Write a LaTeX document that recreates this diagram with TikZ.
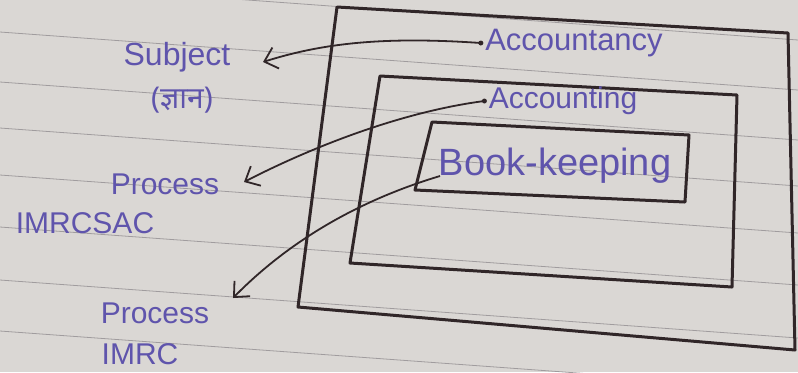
\documentclass[tikz,border=0pt]{standalone}
\usepackage{fontspec}
\setmainfont{Liberation Sans}
\newfontfamily\devfont[Script=Devanagari]{Noto Sans}
\usetikzlibrary{arrows.meta}
\definecolor{paper}{RGB}{218,215,212}
\definecolor{rule}{RGB}{160,156,158}
\definecolor{ink}{RGB}{95,84,172}
\definecolor{pencil}{RGB}{48,38,40}
\tikzset{
  label text/.style={text=ink, inner sep=0pt, anchor=center},
  box line/.style={draw=pencil, line width=1.5pt, line join=round},
  pointer/.style={draw=pencil, line width=0.9pt,
    -{Straight Barb[length=6pt,width=11pt,line width=0.9pt]}},
  start dot/.style={circle, fill=pencil, inner sep=0pt, minimum size=2.5pt}
}
\begin{document}
\begin{tikzpicture}[x=0.5pt,y=-0.5pt]
% paper and its ruled lines
\fill[paper] (0,0) rectangle (798,372);
\useasboundingbox (0,0) rectangle (798,372);
\foreach \y in {-18,32,82,128,175,227,280,331} {
  \draw[rule, line width=0.4pt] (0,\y) -- (798,\y+58);
}
% the three nested boxes
\draw[box line] (337,7) -- (788,33) -- (795,350) -- (298,307) -- cycle;
\draw[box line] (380,76) -- (737,95) -- (732,287) -- (350,263) -- cycle;
\draw[box line] (432,122) -- (689,135) -- (685,202) -- (415,190) -- cycle;
% box titles
\node[label text, font=\fontsize{15.5}{17}\selectfont] (acy) at (574,43) {Accountancy};
\node[label text, font=\fontsize{15}{17}\selectfont] (acg) at (563,101) {Accounting};
\node[label text, font=\fontsize{19}{21}\selectfont] (bk) at (555,166) {Book-keeping};
% side labels
\node[label text, font=\fontsize{16}{18}\selectfont] (subj) at (177,57) {Subject};
\node[label text, font=\fontsize{15}{17}\selectfont\devfont] (gyan) at (182,100) {(ज्ञान)};
\node[label text, font=\fontsize{15}{17}\selectfont] (proc1) at (165,184) {Process};
\node[label text, font=\fontsize{15}{17}\selectfont] (imr1) at (85,223) {IMRCSAC};
\node[label text, font=\fontsize{15}{17}\selectfont] (proc2) at (155,313) {Process};
\node[label text, font=\fontsize{15}{17}\selectfont] (imr2) at (140,354) {IMRC};
% where each pointer starts and where its tip lands
\coordinate (a1) at ([xshift=-2pt]acy.west);
\coordinate (a2) at ([xshift=-2pt]acg.west);
\coordinate (a3) at (440,176);
\coordinate (t1) at (263,62);
\coordinate (t2) at (244,182);
\coordinate (t3) at (233,298);
\node[start dot] at (a1) {};
\node[start dot] at (a2) {};
% pointers from each box title to its meaning
\draw[pointer] (a1) .. controls (380,36) and (320,44) .. (t1);
\draw[pointer] (a2) .. controls (400,112) and (310,148) .. (t2);
\draw[pointer] (a3) .. controls (360,200) and (290,240) .. (t3);
\end{tikzpicture}
\end{document}
